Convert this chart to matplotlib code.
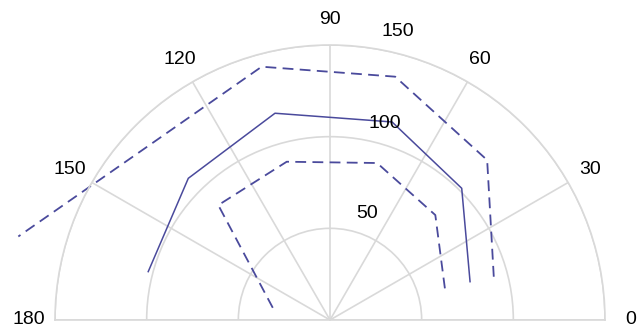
import numpy as np
import matplotlib.pyplot as plt

# angle (deg) / radius pairs for each trace
solid_deg = [15.3, 45.0, 72.6, 104.9, 135.0, 165.1]
solid_r = [79.2, 101.6, 113.2, 116.7, 109.3, 102.6]

inner_deg = [15.4, 44.9, 73.3, 105.3, 134.2, 170.0]
inner_r = [65.0, 81.1, 89.4, 89.5, 87.4, 31.0]

outer_deg = [14.8, 45.5, 75.0, 105.1, 135.0, 165.0]
outer_r = [92.4, 122.3, 137.4, 143.1, 136.7, 176.0]

theta_ticks = [0, 30, 60, 90, 120, 150, 180]
r_ticks = [50, 100, 150]

line_col = '#4a4a9c'
grid_col = '#d9d9d9'

plt.rcParams['font.family'] = ['Liberation Sans', 'DejaVu Sans']

fig = plt.figure(figsize=(6.37, 3.31), dpi=100)
# polar axes box stays square; the half disc sits in its middle
ax = fig.add_axes([55 / 637, -126.5 / 331, 550 / 637, 550 / 331], projection='polar')
ax.set_thetamin(0)
ax.set_thetamax(180)
ax.set_rlim(0, 150)

ax.plot(np.deg2rad(solid_deg), solid_r, color=line_col, lw=1.1, clip_on=False)
ax.plot(np.deg2rad(inner_deg), inner_r, color=line_col, lw=1.3, ls=(0, (6, 3.5)), clip_on=False)
ax.plot(np.deg2rad(outer_deg), outer_r, color=line_col, lw=1.3, ls=(0, (6, 3.5)), clip_on=False)

ax.set_thetagrids(theta_ticks, [str(t) for t in theta_ticks], fontsize=14)
ax.tick_params(axis='x', pad=8)
ax.set_rticks(r_ticks)
ax.set_yticklabels([])
# ring labels, drawn by hand just outside each ring
r_lab_deg = [70.9, 74.4, 76.7]
for r, a in zip(r_ticks, r_lab_deg):
    ax.text(np.deg2rad(a), r + 11.5, str(r), fontsize=14, ha='center', va='center')

ax.grid(True, color=grid_col, lw=1.2)
for sp in ax.spines.values():
    sp.set_color(grid_col)
    sp.set_linewidth(1.2)

fig.savefig('out.png', dpi=100)
